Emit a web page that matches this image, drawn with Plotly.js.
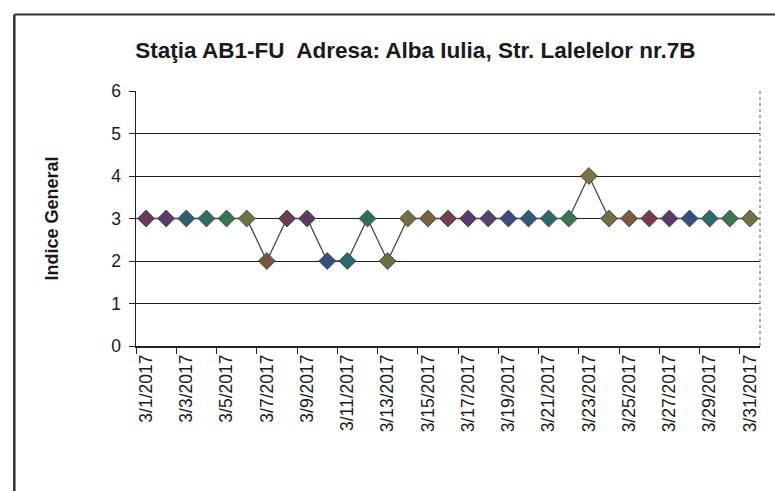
<!DOCTYPE html>
<html>
<head>
<meta charset="utf-8">
<script src="https://cdn.plot.ly/plotly-3.0.1.min.js"></script>
<style>html,body{margin:0;padding:0;background:#fff;}#chart{width:775px;height:491px;}</style>
</head>
<body>
<div id="chart"></div>
<script>
// ---- data ----
const dates = [
  "3/1/2017","3/2/2017","3/3/2017","3/4/2017","3/5/2017","3/6/2017","3/7/2017","3/8/2017",
  "3/9/2017","3/10/2017","3/11/2017","3/12/2017","3/13/2017","3/14/2017","3/15/2017","3/16/2017",
  "3/17/2017","3/18/2017","3/19/2017","3/20/2017","3/21/2017","3/22/2017","3/23/2017","3/24/2017",
  "3/25/2017","3/26/2017","3/27/2017","3/28/2017","3/29/2017","3/30/2017","3/31/2017"
];
const indiceGeneral = [3,3,3,3,3,3,2,3,3,2,2,3,2,3,3,3,3,3,3,3,3,3,4,3,3,3,3,3,3,3,3];
const yTicks = [0,1,2,3,4,5,6];
const chartTitle = "Staţia AB1-FU  Adresa: Alba Iulia, Str. Lalelelor nr.7B";
const yTitle = "Indice General";

// ---- style ----
const markerColors = [
  "#6a3a5c","#5e3a66","#2f5e70","#2f6c66","#3a7452","#6e7244","#74583e","#6c3f50",
  "#5c3a68","#34507a","#2e6670","#2f6c5e","#6a7044","#707040","#7a6240","#743e52",
  "#5e3a6a","#56406c","#3e4a7c","#33587a","#2e6a68","#3a7452","#7a7446","#707040",
  "#7a5a40","#783a50","#5c3a6a","#36507c","#2e6a6a","#3c7454","#6e7244"
];
const axisFont = {family: "Liberation Sans, Arial, sans-serif", size: 17.5, color: "#1a1a1a"};

const trace = {
  type: "scatter",
  mode: "lines+markers",
  x: dates,
  y: indiceGeneral,
  line: {color: "#4a4a4a", width: 1.3},
  marker: {symbol: "diamond", size: 13, color: markerColors, line: {color: "#3a3a3a", width: 0.8}},
  hoverinfo: "x+y"
};

const layout = {
  width: 775, height: 491,
  margin: {l: 136, r: 15, t: 91, b: 145},
  paper_bgcolor: "#ffffff",
  plot_bgcolor: "#ffffff",
  showlegend: false,
  title: {
    text: "<b>" + chartTitle + "</b>",
    font: {family: "Liberation Sans, Arial, sans-serif", size: 22.5, color: "#1a1a1a"},
    x: 0.536, xanchor: "center", xref: "container",
    y: 0.897, yanchor: "middle", yref: "container"
  },
  xaxis: {
    type: "category",
    range: [-0.5, 30.5],
    dtick: 2,
    tickson: "boundaries",
    ticks: "outside", ticklen: 6, tickcolor: "#222", tickwidth: 1,
    tickangle: -90,
    tickfont: axisFont,
    showgrid: false,
    showline: true, linecolor: "#222", linewidth: 1.5,
    zeroline: false, fixedrange: true
  },
  yaxis: {
    range: [0, 6],
    tickmode: "array", tickvals: yTicks, ticktext: yTicks.map(String),
    ticks: "outside", ticklen: 6, tickcolor: "#222",
    ticklabelstandoff: 4,
    tickfont: axisFont,
    showgrid: true, gridcolor: "#1e1e1e", gridwidth: 1,
    showline: true, linecolor: "#222", linewidth: 1.5,
    zeroline: false, fixedrange: true,
    title: {text: "<b>" + yTitle + "</b>", font: {family: "Liberation Sans, Arial, sans-serif", size: 18, color: "#1a1a1a"}, standoff: 48}
  },
  shapes: [
    {type: "line", xref: "paper", yref: "paper", x0: 1, x1: 1, y0: 0, y1: 1, line: {color: "#777", width: 1.2, dash: "dot"}},
    {type: "line", xref: "paper", yref: "paper", x0: -0.195, x1: 1.03, y0: 1.3, y1: 1.3, line: {color: "#333", width: 2}},
    {type: "line", xref: "paper", yref: "paper", x0: -0.195, x1: -0.195, y0: 1.3, y1: -0.6, line: {color: "#333", width: 2.5}}
  ]
};

Plotly.newPlot("chart", [trace], layout, {displayModeBar: false, staticPlot: true});
</script>
</body>
</html>
